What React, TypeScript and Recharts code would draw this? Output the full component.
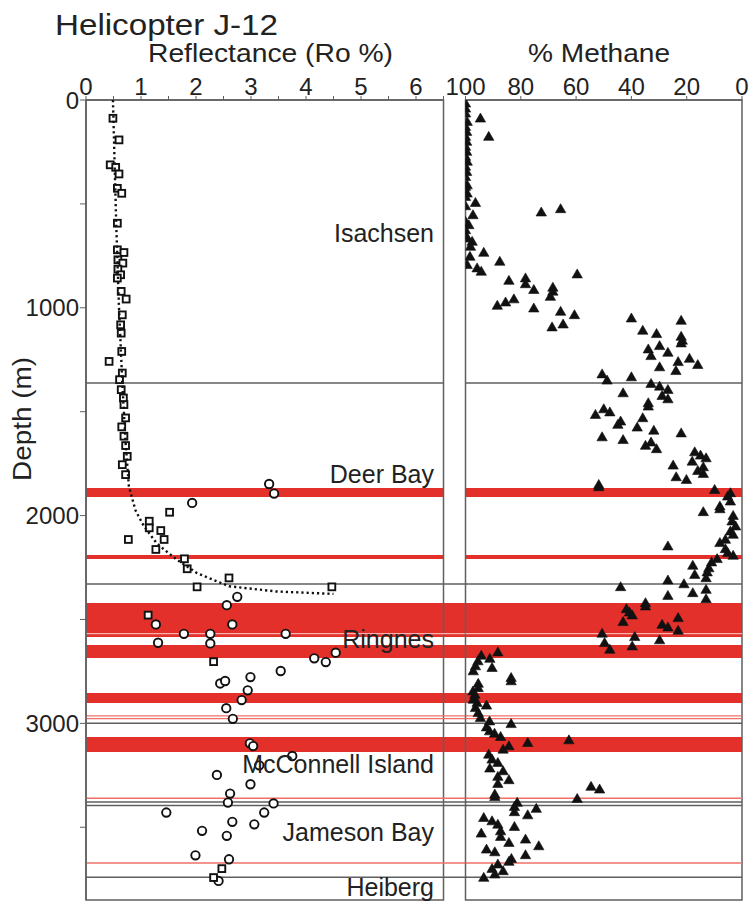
import React from "react";
import { ScatterChart, Scatter, XAxis, YAxis, ReferenceArea, ReferenceLine } from "recharts";

const FONT = '"Liberation Sans", Arial, Helvetica, sans-serif';
const RED = "#e3302b";
const GRAY = "#5f5f5f";

// axes
const roTicks = [0, 0.5, 1, 1.5, 2, 2.5, 3, 3.5, 4, 4.5, 5, 5.5, 6, 6.5];
const methaneTicks = [0, 20, 40, 60, 80, 100];
const depthTicks = [0, 500, 1000, 1500, 2000, 2500, 3000, 3500];

// vitrinite reflectance (squares), [Ro %, depth m]
const vitriniteRo: [number, number][] = [
  [0.49, 88], [0.6, 192], [0.44, 312], [0.54, 324], [0.6, 356], [0.57, 425], [0.65, 449],
  [0.57, 593], [0.57, 721], [0.69, 734], [0.58, 769], [0.67, 785], [0.58, 814], [0.63, 841],
  [0.57, 857], [0.64, 921], [0.73, 958], [0.66, 1034], [0.63, 1082], [0.64, 1122], [0.65, 1210],
  [0.42, 1258], [0.66, 1314], [0.61, 1346], [0.64, 1394], [0.68, 1434], [0.69, 1466], [0.72, 1530],
  [0.65, 1573], [0.69, 1618], [0.72, 1663], [0.75, 1715], [0.66, 1755], [0.72, 1803],
  [1.52, 1984], [1.15, 2027], [1.15, 2059], [1.36, 2072], [1.42, 2115], [0.77, 2115], [1.27, 2163],
  [1.79, 2208], [1.84, 2256], [2.6, 2300], [2.02, 2343], [4.47, 2343], [1.13, 2479], [2.32, 2703],
  [2.47, 3699], [2.32, 3742],
];

// other reflectance measurements (circles)
const otherRo: [number, number][] = [
  [3.33, 1848], [3.42, 1894], [1.93, 1939], [2.75, 2391], [2.56, 2431], [2.66, 2524], [1.27, 2524],
  [1.78, 2569], [2.26, 2569], [3.63, 2569], [1.31, 2612], [2.26, 2615], [4.54, 2660], [4.15, 2687],
  [4.36, 2705], [3.54, 2748], [2.99, 2777], [2.44, 2808], [2.53, 2796], [2.94, 2841], [2.83, 2888],
  [2.55, 2927], [2.67, 2978], [2.98, 3096], [3.04, 3109], [3.75, 3157], [3.15, 3202], [2.38, 3248],
  [2.99, 3293], [2.62, 3338], [2.58, 3381], [3.41, 3385], [3.24, 3429], [1.46, 3429], [2.66, 3474],
  [3.06, 3486], [2.11, 3517], [2.56, 3541], [1.99, 3635], [2.6, 3654], [2.41, 3758],
];

// dotted trend through the squares
const roTrend: [number, number][] = [
  [0.49, 0], [0.52, 300], [0.55, 600], [0.6, 1000], [0.66, 1360], [0.72, 1650], [0.78, 1860],
  [0.9, 1975], [1.05, 2050], [1.29, 2135], [1.65, 2212], [2.02, 2277], [2.6, 2340], [3.45, 2365],
  [4.5, 2377],
];

// % methane (triangles), [% CH4, depth m]
const methane: [number, number][] = [
  [100, 16], [100, 40], [100, 64], [99.4, 104], [94.6, 88], [91.6, 176], [100, 128], [99.6, 152],
  [100, 176], [99.6, 200], [100, 224], [99.6, 248], [100, 272], [99.4, 296], [100, 320], [99.6, 345],
  [100, 369], [99.4, 409], [100, 417], [99.4, 449], [100, 465], [96.4, 494], [100, 510], [97.3, 553],
  [100, 585], [98.8, 601], [100, 625], [100, 649], [99.4, 665], [97.6, 681], [98.2, 705], [72.6, 540],
  [65.6, 524], [93.4, 734], [98.4, 753], [87.6, 777], [99.4, 793], [95.8, 809], [94.3, 825],
  [84.3, 869], [78.3, 857], [78.3, 885], [59.6, 838], [75.3, 913], [68.4, 902], [68.4, 921],
  [69.3, 946], [82.5, 958], [85.5, 973], [88.5, 989], [75.3, 1002], [65.6, 1018], [60.6, 1034],
  [64.7, 1079], [68.7, 1093], [40, 1050], [22, 1061], [35.9, 1109], [30.9, 1125], [22, 1138],
  [21.6, 1157], [22, 1170], [29.8, 1183], [33.9, 1199], [32.9, 1231], [26.8, 1215], [19, 1244],
  [23.1, 1260], [16, 1274], [29.8, 1285], [23.9, 1303], [50.6, 1319], [48.8, 1349], [40, 1333],
  [32.9, 1365], [29.8, 1378], [26.8, 1394], [28.9, 1423], [26.8, 1439], [43, 1410], [33.9, 1458],
  [33.9, 1474], [53, 1514], [50, 1487], [47.8, 1502], [35.9, 1530], [43.9, 1546], [44.9, 1562],
  [37.9, 1575], [31.9, 1590], [22, 1603], [50.6, 1622], [43, 1635], [32.9, 1647], [34.9, 1663],
  [30.9, 1679], [17.1, 1694], [15, 1710], [13, 1723], [18, 1739], [24.9, 1758], [14, 1766],
  [16, 1784], [14, 1798], [23.8, 1814], [20.1, 1827], [51.8, 1851], [51.8, 1862], [9.9, 1875],
  [4.2, 1891], [5.2, 1907], [4.2, 1931], [8, 1955], [8, 1968], [14, 1982], [3.2, 2000], [3.6, 2027],
  [2.3, 2051], [4.2, 2075], [3.2, 2091], [6, 2115], [8, 2131], [26.8, 2147], [6, 2160], [5.2, 2179],
  [3.2, 2192], [9, 2208], [11, 2224], [17.8, 2240], [12, 2252], [12.6, 2272], [17.1, 2284],
  [13, 2300], [26.8, 2311], [21, 2329], [43.9, 2343], [17.8, 2372], [13, 2356], [26.8, 2385],
  [13, 2401], [34.9, 2420], [34.9, 2436], [41.8, 2449], [40.7, 2465], [39.7, 2479], [43, 2511],
  [28.9, 2524], [26.8, 2537], [23.1, 2492], [23.1, 2553], [50.6, 2567], [38.8, 2583], [29.8, 2599],
  [49.7, 2612], [39.7, 2628], [47.8, 2644], [94.3, 2673], [88.3, 2657], [91.2, 2688], [95.5, 2700],
  [96.4, 2724], [90.4, 2732], [97.2, 2748], [83.5, 2780], [83.5, 2796], [95.4, 2808], [95.4, 2829],
  [97.3, 2845], [96.6, 2861], [97.2, 2885], [95.8, 2901], [92.4, 2913], [96.4, 2925], [95.4, 2949],
  [94.6, 2973], [91.3, 2989], [83.5, 3002], [92.4, 3018], [91.3, 3037], [89.5, 3048], [87.3, 3064],
  [77.5, 3093], [62.6, 3080], [84.3, 3109], [86.4, 3125], [91.6, 3149], [90.4, 3173], [88.3, 3189],
  [91.2, 3216], [86.4, 3229], [88.3, 3256], [84.3, 3272], [88.3, 3290], [54.6, 3304], [51.5, 3317],
  [89.4, 3341], [59.6, 3362], [89.4, 3353], [81.3, 3381], [82.3, 3401], [74.4, 3410], [82.3, 3426],
  [77.5, 3441], [93.4, 3454], [90.4, 3470], [88.3, 3486], [82.3, 3497], [87.3, 3518], [94.3, 3529],
  [87.3, 3545], [78.3, 3558], [84.3, 3574], [73.5, 3590], [92.4, 3606], [89.4, 3619], [78.3, 3633],
  [83.4, 3651], [84.3, 3665], [88.3, 3678], [90.4, 3699], [86.4, 3710], [89.4, 3726], [93.4, 3742],
];

// depth markers (m)
const panelBands: [number, number][] = [[1867, 1911], [2190, 2209]];
const wideBands: [number, number][] = [[2421, 2584], [2623, 2685], [2854, 2902], [3065, 3138]];
const paleLines = [2568];
const panelGrayLines = [1362];
const wideGrayLines = [2329, 2999, 3378, 3395, 3740];
const wideRedLines = [2964, 2977, 3360, 3672];

const formations = ["Isachsen", "Deer Bay", "Ringnes", "McConnell Island", "Jameson Bay", "Heiberg"];
const formationBaselines = [242, 483, 648, 773, 841, 896];

const DEPTH_MAX = 3850;
const RO_MAX = 6.5;
const RO_GAP = 6.92;

const toRo = (p: [number, number]) => ({ ro: p[0], depth: p[1] });
const toCh4 = (p: [number, number]) => ({ ch4: p[0], depth: p[1] });

const tickStyle = { fill: "#222", fontSize: 24, fontFamily: FONT };
const axisLine = { stroke: GRAY, strokeWidth: 1.5 };

const Square = (props: any) => (
  <rect x={props.cx - 3.4} y={props.cy - 3.4} width={6.8} height={6.8} fill="#fff" stroke="#111" strokeWidth={1.9} />
);
const Circle = (props: any) => (
  <circle cx={props.cx} cy={props.cy} r={4.2} fill="#fff" stroke="#111" strokeWidth={1.9} />
);
const Triangle = (props: any) => (
  <polygon
    points={`${props.cx},${props.cy - 5.2} ${props.cx - 5.2},${props.cy + 3.8} ${props.cx + 5.2},${props.cy + 3.8}`}
    fill="#111"
    stroke="#111"
    strokeWidth={0.6}
    strokeLinejoin="round"
  />
);
const Nothing = () => <g />;

function ReflectancePanel() {
  return (
    <ScatterChart width={480} height={903} margin={{ top: 60, right: 36.5, bottom: 3, left: 0 }}>
      <XAxis
        dataKey="ro"
        type="number"
        orientation="top"
        domain={[0, RO_MAX]}
        ticks={roTicks}
        interval={0}
        allowDataOverflow
        tickFormatter={(v: number) => (Number.isInteger(v) ? String(v) : "")}
        tickSize={4}
        tickMargin={1}
        height={40}
        tick={tickStyle}
        axisLine={axisLine}
        tickLine={{ stroke: GRAY }}
      />
      <YAxis
        dataKey="depth"
        type="number"
        domain={[0, DEPTH_MAX]}
        reversed
        ticks={depthTicks}
        interval={0}
        allowDataOverflow
        tickFormatter={(v: number) => (v % 1000 === 0 ? String(v) : "")}
        tickSize={6}
        tickMargin={1}
        width={86}
        tick={tickStyle}
        axisLine={axisLine}
        tickLine={{ stroke: GRAY }}
      />
      {panelBands.map(([a, b]) => (
        <ReferenceArea key={`pb${a}`} x1={0} x2={RO_MAX} y1={a} y2={b} fill={RED} fillOpacity={1} stroke="none" />
      ))}
      {wideBands.map(([a, b]) => (
        <ReferenceArea key={`wb${a}`} x1={0} x2={RO_GAP} y1={a} y2={b} fill={RED} fillOpacity={1} stroke="none" ifOverflow="visible" />
      ))}
      {paleLines.map((d) => (
        <ReferenceLine key={`pl${d}`} segment={[{ x: 0, y: d }, { x: RO_GAP, y: d }]} stroke="#f6b3ad" strokeWidth={1.2} ifOverflow="visible" />
      ))}
      {wideRedLines.map((d) => (
        <ReferenceLine key={`rl${d}`} segment={[{ x: 0, y: d }, { x: RO_GAP, y: d }]} stroke="#f07068" strokeWidth={1.4} ifOverflow="visible" />
      ))}
      {panelGrayLines.map((d) => (
        <ReferenceLine key={`gl${d}`} y={d} stroke={GRAY} strokeWidth={1.5} />
      ))}
      {wideGrayLines.map((d) => (
        <ReferenceLine key={`wg${d}`} segment={[{ x: 0, y: d }, { x: RO_GAP, y: d }]} stroke={GRAY} strokeWidth={1.5} ifOverflow="visible" />
      ))}
      <ReferenceArea x1={0} x2={RO_MAX} y1={0} y2={DEPTH_MAX} fill="none" stroke={GRAY} strokeWidth={1.5} ifOverflow="visible" />
      <Scatter data={otherRo.map(toRo)} shape={Circle} isAnimationActive={false} />
      <Scatter data={vitriniteRo.map(toRo)} shape={Square} isAnimationActive={false} />
      <Scatter
        data={roTrend.map(toRo)}
        shape={Nothing}
        line={{ stroke: "#111", strokeWidth: 2.4, strokeDasharray: "2.2 3" }}
        lineType="joint"
        isAnimationActive={false}
      />
    </ScatterChart>
  );
}

function MethanePanel() {
  return (
    <ScatterChart width={313} height={903} margin={{ top: 60, right: 11, bottom: 3, left: 25.5 }}>
      <XAxis
        dataKey="ch4"
        type="number"
        orientation="top"
        domain={[0, 100]}
        reversed
        ticks={methaneTicks}
        interval={0}
        allowDataOverflow
        tickSize={4}
        tickMargin={1}
        height={40}
        tick={tickStyle}
        axisLine={axisLine}
        tickLine={{ stroke: GRAY }}
      />
      <YAxis dataKey="depth" type="number" domain={[0, DEPTH_MAX]} reversed hide allowDataOverflow />
      {[...panelBands, ...wideBands].map(([a, b]) => (
        <ReferenceArea key={`b${a}`} y1={a} y2={b} fill={RED} fillOpacity={1} stroke="none" />
      ))}
      {paleLines.map((d) => (
        <ReferenceLine key={`pl${d}`} y={d} stroke="#f6b3ad" strokeWidth={1.2} />
      ))}
      {wideRedLines.map((d) => (
        <ReferenceLine key={`rl${d}`} y={d} stroke="#f07068" strokeWidth={1.4} />
      ))}
      {[...panelGrayLines, ...wideGrayLines].map((d) => (
        <ReferenceLine key={`gl${d}`} y={d} stroke={GRAY} strokeWidth={1.5} />
      ))}
      <ReferenceArea x1={0} x2={100} y1={0} y2={DEPTH_MAX} fill="none" stroke={GRAY} strokeWidth={1.5} ifOverflow="visible" />
      <Scatter data={methane.map(toCh4)} shape={Triangle} isAnimationActive={false} />
    </ScatterChart>
  );
}

export default function App() {
  return (
    <div style={{ position: "absolute", left: 0, top: 0, width: 753, height: 903, background: "#fff", overflow: "hidden" }}>
      <div style={{ position: "absolute", left: 0, top: 0 }}>
        <ReflectancePanel />
      </div>
      <div style={{ position: "absolute", left: 440, top: 0 }}>
        <MethanePanel />
      </div>
      <svg width={753} height={903} style={{ position: "absolute", left: 0, top: 0, pointerEvents: "none" }}>
        <g fontFamily={FONT} fill="#222">
          <text x={55} y={35} fontSize={30} textLength={223} lengthAdjust="spacingAndGlyphs">
            Helicopter J-12
          </text>
          <text x={148} y={62} fontSize={26} textLength={245} lengthAdjust="spacingAndGlyphs">
            Reflectance (Ro %)
          </text>
          <text x={528} y={62} fontSize={26} textLength={142} lengthAdjust="spacingAndGlyphs">
            % Methane
          </text>
          <text transform="translate(31,481) rotate(-90)" fontSize={25} textLength={124} lengthAdjust="spacingAndGlyphs">
            Depth (m)
          </text>
          {formations.map((name, i) => (
            <text key={name} x={434} y={formationBaselines[i]} fontSize={25} textAnchor="end">
              {name}
            </text>
          ))}
        </g>
      </svg>
    </div>
  );
}
